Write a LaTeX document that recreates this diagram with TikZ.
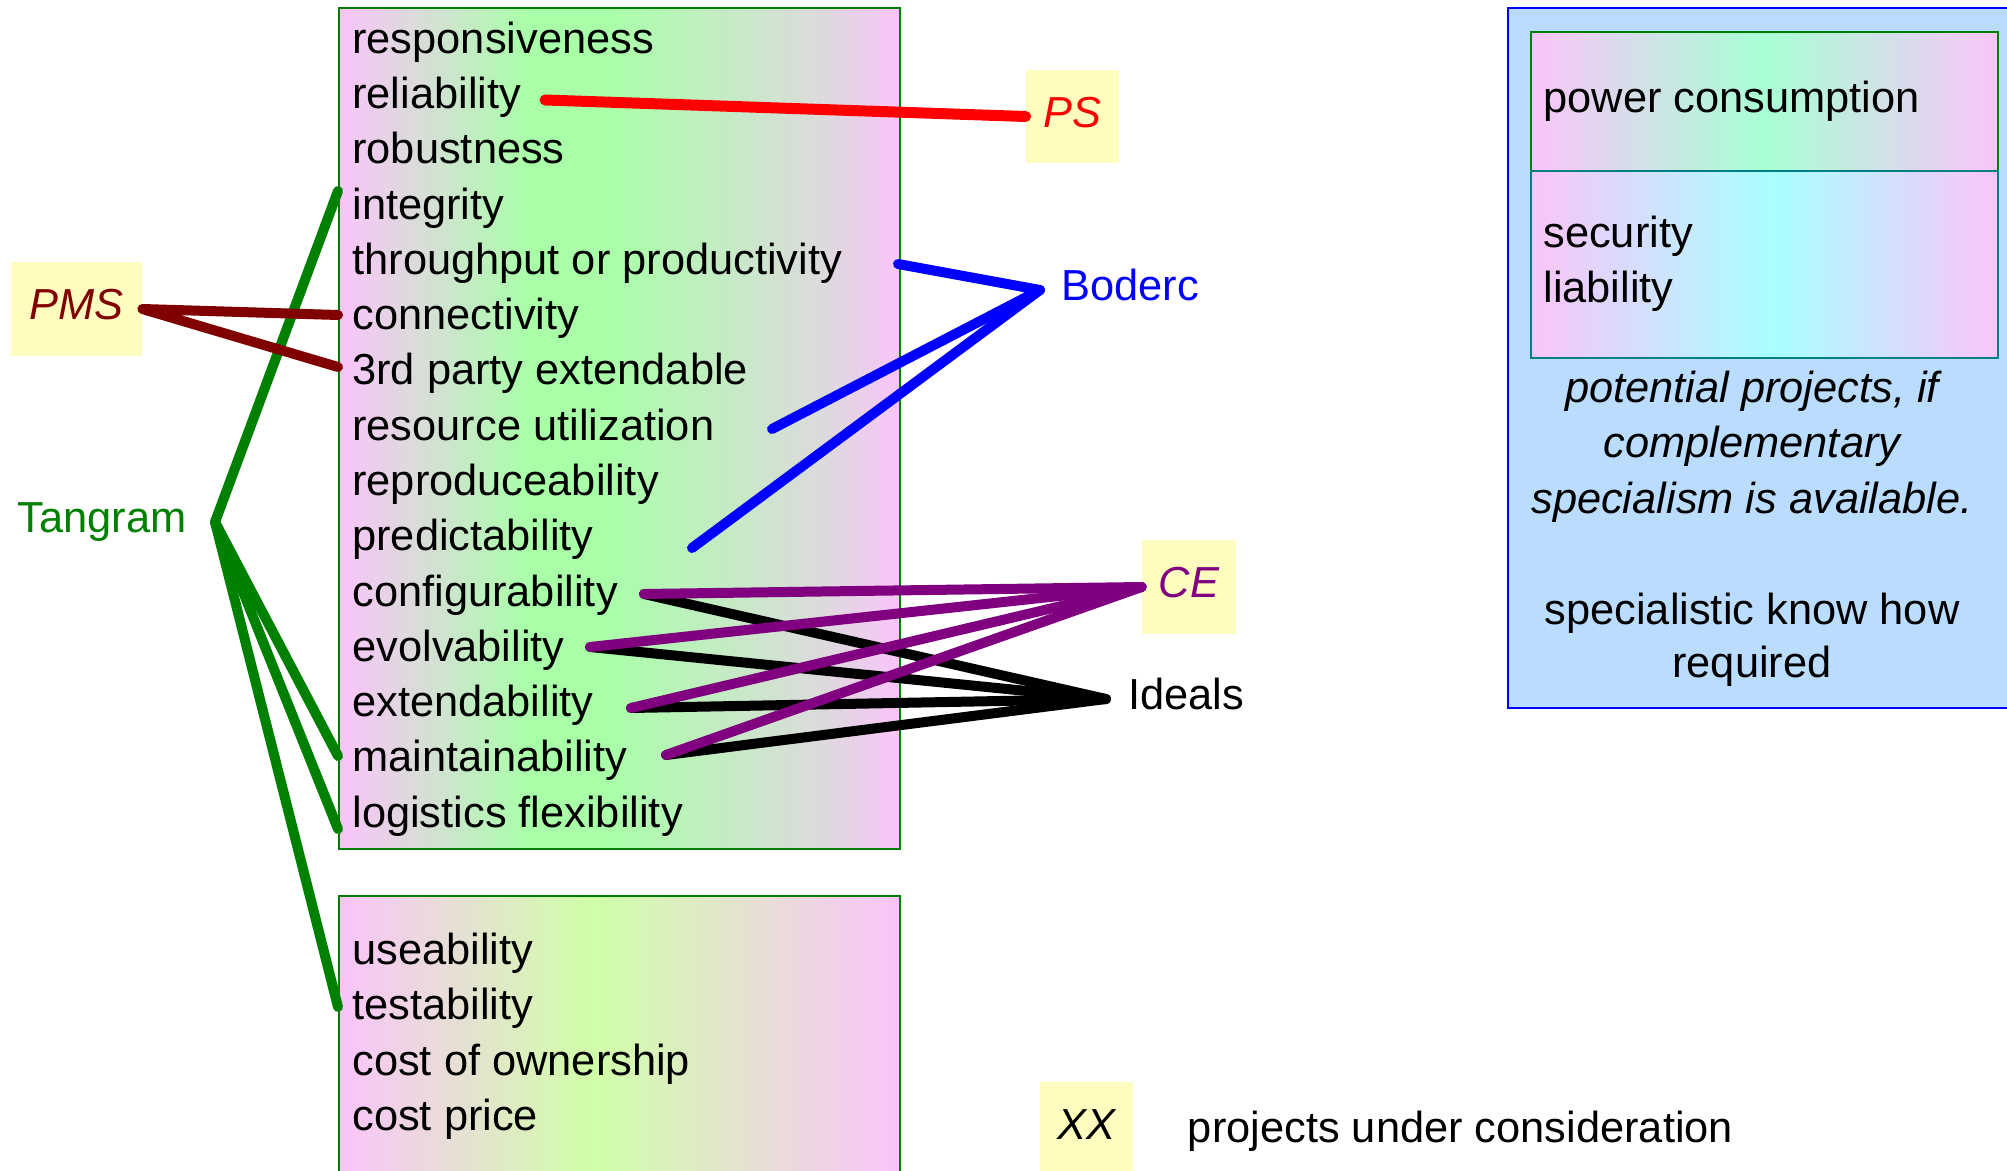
\documentclass[tikz,border=0pt]{standalone}
\usepackage{fontspec}
\setmainfont{Liberation Sans}
\usetikzlibrary{calc}
\definecolor{pinkc}{RGB}{250,196,250}
\definecolor{grayc}{RGB}{220,218,220}
\definecolor{greenc}{RGB}{168,255,168}
\definecolor{ygreenc}{RGB}{208,255,168}
\definecolor{mintc}{RGB}{168,255,212}
\definecolor{cyanc}{RGB}{168,255,255}
\definecolor{bluebg}{RGB}{186,220,255}
\definecolor{yellowc}{RGB}{255,252,192}
\definecolor{maroonc}{RGB}{128,0,0}
\definecolor{greenl}{RGB}{0,128,0}
\definecolor{purplec}{RGB}{128,0,128}
\definecolor{tealc}{RGB}{0,128,128}
\pgfdeclarehorizontalshading{mainsh}{100bp}{color(0bp)=(pinkc); color(25bp)=(pinkc); color(31.5bp)=(grayc); color(42bp)=(greenc); color(49bp)=(greenc); color(68bp)=(grayc); color(75bp)=(pinkc); color(100bp)=(pinkc)}
\pgfdeclarehorizontalshading{botsh}{100bp}{color(0bp)=(pinkc); color(25bp)=(pinkc); color(47.5bp)=(ygreenc); color(75bp)=(pinkc); color(100bp)=(pinkc)}
\pgfdeclarehorizontalshading{powsh}{100bp}{color(0bp)=(pinkc); color(25bp)=(pinkc); color(50bp)=(mintc); color(75bp)=(pinkc); color(100bp)=(pinkc)}
\pgfdeclarehorizontalshading{secsh}{100bp}{color(0bp)=(pinkc); color(25bp)=(pinkc); color(51bp)=(cyanc); color(75bp)=(pinkc); color(100bp)=(pinkc)}
\newcommand\dgfont{\fontsize{21.7pt}{27.7pt}\selectfont}
\begin{document}
\begin{tikzpicture}[x=0.5pt,y=-0.5pt,
  boxn/.style={anchor=north west, inner sep=0pt, line width=1pt},
  item/.style={anchor=base west, inner sep=0pt, font=\dgfont, text height=16.3pt, text depth=5.4pt},
  lbl/.style={inner sep=0pt, font=\dgfont, text height=16.3pt, text depth=5.4pt},
  proj/.style={fill=yellowc, inner sep=0pt, font=\dgfont\itshape, text height=16.3pt, text depth=5.4pt},
  link/.style={line width=5pt, line cap=round, line join=round}]
\useasboundingbox (0,0) rectangle (2007,1171);

% boxes
\node[boxn, shading=mainsh, draw=greenl, minimum width=280.5pt, minimum height=420.5pt] (mainbox) at (338,7) {};
\node[boxn, shading=botsh, draw=greenl, minimum width=280.5pt, minimum height=142.5pt] (botbox) at (338,895) {};
\node[boxn, fill=bluebg, draw=blue, minimum width=254pt, minimum height=350pt] (bluebox) at (1507,7) {};
\node[boxn, shading=powsh, draw=greenl, minimum width=233.5pt, minimum height=69.5pt] (powbox) at (1530,31) {};
\node[boxn, shading=secsh, draw=tealc, minimum width=233.5pt, minimum height=93.5pt] (secbox) at (1530,170) {};

% items of main box
\node[item] (resp) at (352,53.5) {responsiveness};
\node[item] (reli) at (352,108.75) {reliability};
\node[item] (robu) at (352,164) {robustness};
\node[item] (inte) at (352,219.25) {integrity};
\node[item] (thru) at (352,274.5) {throughput or productivity};
\node[item] (conn) at (352,329.75) {connectivity};
\node[item] (third) at (352,385) {3rd party extendable};
\node[item] (reso) at (352,440.25) {resource utilization};
\node[item] (repr) at (352,495.5) {reproduceability};
\node[item] (pred) at (352,550.75) {predictability};
\node[item] (conf) at (352,606) {configurability};
\node[item] (evol) at (352,661.25) {evolvability};
\node[item] (exte) at (352,716.5) {extendability};
\node[item] (main) at (352,771.75) {maintainability};
\node[item] (logi) at (352,827) {logistics flexibility};

% items of bottom box
\node[item] (usea) at (352,964) {useability};
\node[item] (test) at (352,1019) {testability};
\node[item] (own) at (352,1075) {cost of ownership};
\node[item] (price) at (352,1130) {cost price};

% right box texts
\node[item] (power) at (1543,112.5) {power consumption};
\node[item] (secu) at (1543,248) {security};
\node[item] (liab) at (1543,303) {liability};
\node[item, anchor=base, font=\dgfont\itshape] (pot1) at (1752,402) {potential projects, if};
\node[item, anchor=base, font=\dgfont\itshape] (pot2) at (1752,458) {complementary};
\node[item, anchor=base, font=\dgfont\itshape] (pot3) at (1752,513) {specialism is available.};
\node[item, anchor=base] (spec1) at (1752,624) {specialistic know how};
\node[item, anchor=base] (spec2) at (1752,677) {required};

% project labels
\node[proj, text=red, minimum width=46.5pt, minimum height=46.5pt] (ps) at (1072.5,116.5) {PS};
\node[proj, text=maroonc, minimum width=65.5pt, minimum height=47pt] (pms) at (76.5,309) {PMS};
\node[proj, text=purplec, minimum width=47pt, minimum height=47pt] (ce) at (1189,587) {CE};
\node[proj, text=black, minimum width=46.5pt, minimum height=46.5pt] (xx) at (1086.5,1128.5) {XX};
\node[item] (legend) at (1187.5,1142) {projects under consideration};
\node[lbl, text=blue, anchor=west, inner xsep=10.5pt] (boderc) at (1040,290) {Boderc};
\node[lbl, text=black, anchor=west, inner xsep=11pt] (ideals) at (1106,699) {Ideals};
\node[lbl, text=greenl, anchor=east, inner xsep=14pt] (tangram) at (215,522) {Tangram};

% connector ends
\coordinate (reliR) at (545,100);
\coordinate (thruR) at (898,264);
\coordinate (resoR) at (772,429);
\coordinate (predR) at (692,548);
\coordinate (connL) at (338,315);
\coordinate (thirdL) at (338,367);
\coordinate (inteL) at (338,191);
\coordinate (mainL) at (338,756);
\coordinate (logiL) at (338,829);
\coordinate (testL) at (338,1007);
\coordinate (confR) at (644,594);
\coordinate (evolR) at (590,647);
\coordinate (exteR) at (631,708);
\coordinate (mainR) at (666,755);

% connectors
\draw[link, greenl] (inteL) -- (tangram.east) -- (mainL);
\draw[link, greenl] (tangram.east) -- (logiL);
\draw[link, greenl] (tangram.east) -- (testL);
\draw[link, maroonc] (connL) -- (pms.east) -- (thirdL);
\draw[link, red, line width=5.5pt] (reliR) -- (ps.west);
\draw[link, blue] (thruR) -- (boderc.west) -- (resoR);
\draw[link, blue] (boderc.west) -- (predR);
\draw[link, black] (confR) -- (ideals.west);
\draw[link, black] (evolR) -- (ideals.west);
\draw[link, black] (exteR) -- (ideals.west);
\draw[link, black] (mainR) -- (ideals.west);
\draw[link, purplec] (confR) -- (ce.west);
\draw[link, purplec] (evolR) -- (ce.west);
\draw[link, purplec] (exteR) -- (ce.west);
\draw[link, purplec] (mainR) -- (ce.west);
\end{tikzpicture}
\end{document}
